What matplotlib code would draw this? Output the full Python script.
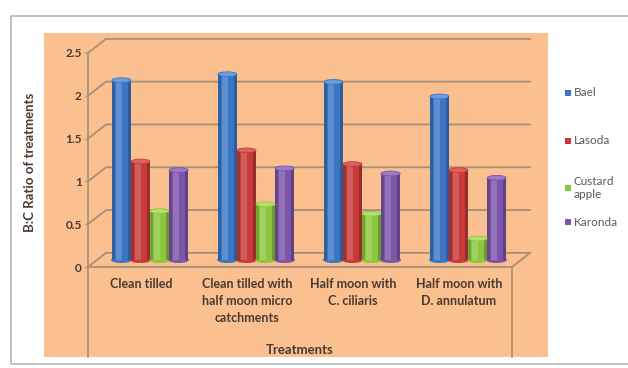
import matplotlib
matplotlib.use("Agg")
import matplotlib.pyplot as plt
from matplotlib.patches import Rectangle, Ellipse

# B:C ratio per treatment and fruit crop
treatments = ["Clean tilled",
              "Clean tilled with\nhalf moon micro\ncatchments",
              "Half moon with\nC. ciliaris",
              "Half moon with\nD. annulatum"]
crops = ["Bael", "Lasoda", "Custard\napple", "Karonda"]
bael = [2.10, 2.17, 2.08, 1.91]
lasoda = [1.15, 1.28, 1.12, 1.05]
custard_apple = [0.57, 0.65, 0.54, 0.25]
karonda = [1.05, 1.07, 1.01, 0.96]
yticks = [0, 0.5, 1, 1.5, 2, 2.5]
ytick_labels = ["0", "0.5", "1", "1.5", "2", "2.5"]

series = [bael, lasoda, custard_apple, karonda]
colors = ["#3a76c4", "#c63a38", "#8cc63e", "#7c55a8"]
caps = ["#6a9ede", "#e0605c", "#b4e070", "#9c7cc6"]

plt.rcParams["font.family"] = ["Lato", "DejaVu Sans"]
W, H = 628, 368
fig = plt.figure(figsize=(W / 100, H / 100), dpi=100)
fig.patch.set_facecolor("white")

# outer frame and orange chart area (pixel boxes, top-down y)
def px_box(x0, y0, x1, y1, **kw):
    return Rectangle((x0 / W, 1 - y1 / H), (x1 - x0) / W, (y1 - y0) / H,
                     transform=fig.transFigure, **kw)

fig.add_artist(px_box(11, 16, 632, 364, facecolor="none", edgecolor="#b8b8b8",
                      lw=1.2, zorder=-10))
fig.add_artist(px_box(44, 33, 548, 357, facecolor="#fac090", edgecolor="none",
                      zorder=-10))

ax = fig.add_axes([88 / W, 1 - 267 / H, 424 / W, 214 / H])
ax.set_facecolor("none")
ax.set_xlim(-0.5, 3.5)
ax.set_ylim(0, 2.5)

# depth of the 3-D box in data units
DX, DY = 0.17, 0.165
grid_c = "#a88f78"

# back wall gridlines with the slanted side-wall segment
for v in yticks:
    ax.plot([-0.5, -0.5 + DX, 3.5 + DX], [v, v + DY, v + DY],
            color=grid_c, lw=1.3, clip_on=False, zorder=1)
# floor edges
ax.plot([-0.5, 3.5, 3.5 + DX], [0, 0, DY], color=grid_c, lw=1.3, clip_on=False, zorder=1)
# frame lines below the floor
ax.plot([-0.5, -0.5], [0, -1.05], color=grid_c, lw=1.2, clip_on=False)
ax.plot([3.5, 3.5], [0, -1.05], color=grid_c, lw=1.2, clip_on=False)

# cylinders
bw = 0.18
offsets = [-1.5 * bw, -0.5 * bw, 0.5 * bw, 1.5 * bw]
cap_h = 0.055
for vals, off, c, cc in zip(series, offsets, colors, caps):
    xs = [i + off + DX / 2 for i in range(len(vals))]
    ax.bar(xs, vals, width=bw, bottom=DY / 2, color=c, edgecolor="none",
           zorder=3, clip_on=False)
    # soft highlight and darker rims to suggest roundness
    ax.bar([x - bw * 0.12 for x in xs], vals, width=bw * 0.3, bottom=DY / 2,
           color="white", alpha=0.18, edgecolor="none", zorder=4, clip_on=False)
    ax.bar([x - bw * 0.42 for x in xs], vals, width=bw * 0.16, bottom=DY / 2,
           color="black", alpha=0.18, edgecolor="none", zorder=4, clip_on=False)
    ax.bar([x + bw * 0.42 for x in xs], vals, width=bw * 0.16, bottom=DY / 2,
           color="black", alpha=0.22, edgecolor="none", zorder=4, clip_on=False)
    for x, v in zip(xs, vals):
        ax.add_patch(Ellipse((x, DY / 2), bw, cap_h, color=c, zorder=3, clip_on=False))
        ax.add_patch(Ellipse((x, v + DY / 2), bw, cap_h, facecolor=cc,
                             edgecolor=c, lw=0.6, zorder=5, clip_on=False))

for s in ["top", "right", "bottom"]:
    ax.spines[s].set_visible(False)
ax.spines["left"].set_color(grid_c)
ax.spines["left"].set_linewidth(1.2)

text_c = "#4a3a30"
ax.set_yticks(yticks)
ax.set_yticklabels(ytick_labels, fontsize=8.5, fontweight="bold", color=text_c)
ax.tick_params(axis="y", length=2.5, width=1, color=grid_c, pad=2)

ax.set_xticks(range(len(treatments)))
ax.set_xticklabels(treatments, fontsize=9, fontweight="bold", color=text_c,
                   linespacing=1.5, va="top")
ax.tick_params(axis="x", length=0, pad=8)

ax.set_xlabel("Treatments", fontsize=9.5, fontweight="bold", color=text_c, va="center")
ax.xaxis.set_label_coords(0.5, -0.388)
fig.text(30 / W, 1 - 162 / H, "B:C Ratio of treatments", rotation=90,
         ha="center", va="center", fontsize=9.5, fontweight="bold", color=text_c)

# legend entries on the right
legend_y = [93, 141, 188, 222]
for name, c, y in zip(crops, colors, legend_y):
    fig.add_artist(px_box(565, y - 3, 571, y + 3, facecolor=c, edgecolor="none"))
    fig.text(574 / W, 1 - y / H, name, ha="left", va="center", fontsize=8.5,
             color="#595959", linespacing=1.2)

fig.savefig("out.png", dpi=100, facecolor="white")
